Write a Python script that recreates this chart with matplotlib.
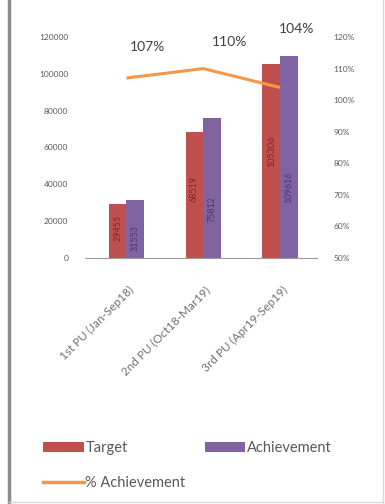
import matplotlib.pyplot as plt
from matplotlib.lines import Line2D
import numpy as np

plt.rcParams['font.family'] = ['Lato', 'DejaVu Sans']

categories = ['1st PU (Jan-Sep18)', '2nd PU (Oct18-Mar19)', '3rd PU (Apr19-Sep19)']
target = [29455, 68519, 105306]
achievement = [31553, 75812, 109616]
pct_achievement = [107, 110, 104]
pct_labels = ['107%', '110%', '104%']

left_ticks = [0, 20000, 40000, 60000, 80000, 100000, 120000]
right_ticks = [50, 60, 70, 80, 90, 100, 110, 120]

RED = '#c0504d'
PURPLE = '#8064a2'
ORANGE = '#f79646'
GREY = '#595959'

fig = plt.figure(figsize=(3.85, 5.04), dpi=100)
ax = fig.add_axes([85 / 385, 1 - 258 / 504, (317 - 85) / 385, (258 - 37) / 504])

x = np.arange(len(categories))
w = 0.23
b1 = ax.bar(x - w / 2, target, w, color=RED, label='Target', zorder=2)
b2 = ax.bar(x + w / 2, achievement, w, color=PURPLE, label='Achievement', zorder=2)

for xi, v in zip(x, target):
    ax.text(xi - w / 2, v * 0.55, f'{v}', rotation=90, ha='center', va='center',
            fontsize=6.5, color='#7a2a28', zorder=3)
for xi, v in zip(x, achievement):
    ax.text(xi + w / 2, v * 0.35, f'{v}', rotation=90, ha='center', va='center',
            fontsize=6.5, color='#4a3570', zorder=3)

ax.set_xlim(-0.54, 2.48)
ax.set_ylim(0, 120000)
ax.set_yticks(left_ticks)
ax.set_yticklabels([f'{t}' for t in left_ticks], fontsize=6, color=GREY)
ax.set_xticks(x + 0.02)
ax.set_xticklabels(categories, rotation=45, ha='right', rotation_mode='anchor',
                   fontsize=8.5, color='#707070')
ax.tick_params(axis='y', length=0, pad=12)
ax.tick_params(axis='x', length=0, pad=19)
for s in ['top', 'right', 'left']:
    ax.spines[s].set_visible(False)
ax.spines['bottom'].set_color('#9a9a9a')

ax2 = ax.twinx()
ax2.plot(x, pct_achievement, color=ORANGE, lw=2.2, solid_capstyle='butt', zorder=4)
ax2.set_ylim(50, 120)
ax2.set_yticks(right_ticks)
ax2.set_yticklabels([f'{t}%' for t in right_ticks], fontsize=6, color=GREY)
ax2.tick_params(axis='y', length=0, pad=12)
for s in ['top', 'right', 'left', 'bottom']:
    ax2.spines[s].set_visible(False)

offsets = [(15, 22), (19, 19), (12, 42)]
for xi, v, lab, off in zip(x, pct_achievement, pct_labels, offsets):
    ax2.annotate(lab, (xi, v), xytext=off, textcoords='offset points',
                 ha='center', va='center', fontsize=10, color='#404040',
                 annotation_clip=False)

# column-major fill: Target / % Achievement in the first column
handles = [b1, Line2D([0], [0], color=ORANGE, lw=2.5), b2]
labels = ['Target', '% Achievement', 'Achievement']
fig.legend(handles, labels, loc='upper left', bbox_to_anchor=(30 / 385, 1 - 428 / 504),
           ncol=2, frameon=False, fontsize=10.5, labelcolor=GREY,
           handlelength=2.8, handleheight=0.6, handletextpad=0.1,
           columnspacing=1.3, labelspacing=1.4)

# frame around the chart area
fig.add_artist(Line2D([9 / 385, 9 / 385], [0, 1], color='#8c8c8c', lw=2.5))
fig.add_artist(Line2D([383 / 385, 383 / 385], [0, 1], color='#d9d9d9', lw=1))
fig.add_artist(Line2D([9 / 385, 383 / 385], [2 / 504, 2 / 504], color='#d9d9d9', lw=1))

fig.savefig('out.png', dpi=100)
